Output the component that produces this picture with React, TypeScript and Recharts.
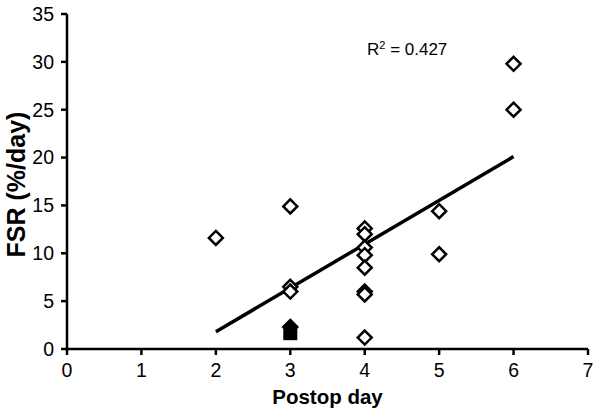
import React from 'react';
import {
  ScatterChart,
  Scatter,
  XAxis,
  YAxis,
  ReferenceLine,
} from 'recharts';

// open diamonds: postop day vs FSR
const openDays = [2, 3, 3, 3, 4, 4, 4, 4, 4, 4, 4, 4, 5, 5, 6, 6];
const openFsr = [11.6, 14.9, 6.5, 6.0, 12.6, 12.0, 10.6, 9.8, 8.5, 6.0, 5.7, 1.2, 14.4, 9.9, 29.8, 25.0];

// filled markers
const filledDiamondDays = [3];
const filledDiamondFsr = [2.3];
const squareDays = [3];
const squareFsr = [1.6];

// regression line end points
const fitDays = [2, 6];
const fitFsr = [1.8, 20.1];

const xTicks = [0, 1, 2, 3, 4, 5, 6, 7];
const yTicks = [0, 5, 10, 15, 20, 25, 30, 35];

const openData = openDays.map((d, i) => ({ day: d, fsr: openFsr[i] }));
const filledData = filledDiamondDays.map((d, i) => ({ day: d, fsr: filledDiamondFsr[i] }));
const squareData = squareDays.map((d, i) => ({ day: d, fsr: squareFsr[i] }));

const FONT = '"Liberation Sans", Arial, sans-serif';

const Diamond = (fill: string) => (props: any) => {
  const { cx, cy } = props;
  const r = 7;
  return (
    <path
      d={`M${cx},${cy - r}L${cx + r},${cy}L${cx},${cy + r}L${cx - r},${cy}Z`}
      fill={fill}
      stroke="#000"
      strokeWidth={2.5}
    />
  );
};

const Square = (props: any) => {
  const { cx, cy } = props;
  return <rect x={cx - 7} y={cy - 6.5} width={14} height={13} fill="#000" />;
};

export default function App() {
  const tick = { fill: '#000', fontSize: 19.5, fontFamily: FONT };
  return (
    <div style={{ position: 'absolute', left: 0, top: 0, width: 600, height: 416, background: '#fff' }}>
      <ScatterChart width={600} height={416} margin={{ top: 14, right: 12, bottom: 7, left: 0 }}>
        <XAxis
          type="number"
          dataKey="day"
          domain={[0, 7]}
          ticks={xTicks}
          tick={tick}
          tickSize={6}
          tickMargin={8}
          height={60}
          stroke="#000"
          strokeWidth={2.5}
          label={{
            value: 'Postop day',
            position: 'center',
            dy: 18,
            fontFamily: FONT,
            fontSize: 20.5,
            fontWeight: 'bold',
            fill: '#000',
          }}
        />
        <YAxis
          type="number"
          dataKey="fsr"
          domain={[0, 35]}
          ticks={yTicks}
          tick={tick}
          tickSize={6}
          tickMargin={7}
          width={67}
          stroke="#000"
          strokeWidth={2.5}
          label={{
            value: 'FSR (%/day)',
            angle: -90,
            position: 'center',
            dx: -17,
            dy: 3,
            fontFamily: FONT,
            fontSize: 25,
            fontWeight: 'bold',
            fill: '#000',
            textAnchor: 'middle',
          }}
        />
        <Scatter data={openData} shape={Diamond('#fff')} isAnimationActive={false} />
        <Scatter data={filledData} shape={Diamond('#000')} isAnimationActive={false} />
        <Scatter data={squareData} shape={Square} isAnimationActive={false} />
        <ReferenceLine
          segment={[
            { x: fitDays[0], y: fitFsr[0] },
            { x: fitDays[1], y: fitFsr[1] },
          ]}
          stroke="#000"
          strokeWidth={3.5}
        />
      </ScatterChart>
      <div
        style={{
          position: 'absolute',
          left: 367,
          top: 40,
          fontFamily: FONT,
          fontSize: 17,
          color: '#000',
          whiteSpace: 'nowrap',
        }}
      >
        R<sup style={{ fontSize: 11, verticalAlign: 'top', position: 'relative', top: -1 }}>2</sup> = 0.427
      </div>
    </div>
  );
}
